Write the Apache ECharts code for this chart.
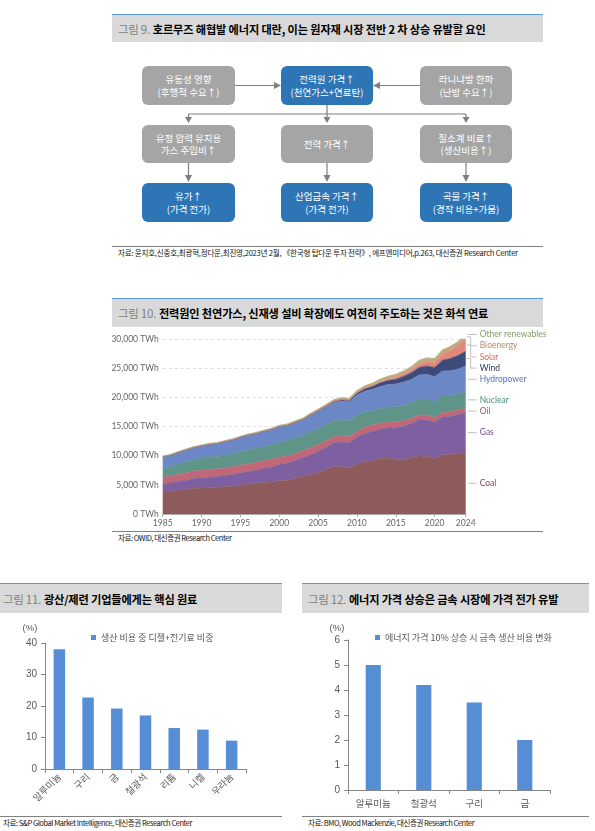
<!DOCTYPE html>
<html><head><meta charset="utf-8">
<script src="https://cdn.jsdelivr.net/npm/echarts@6/dist/echarts.min.js"></script>
<style>
body{margin:0;width:595px;height:831px;position:relative;background:#fff;font-family:"Noto Sans CJK KR",sans-serif;overflow:hidden}
.hd{position:absolute;background:#d9d9d9;border-top:1.5px solid #5b9bd5;box-sizing:border-box;display:flex;align-items:center;white-space:nowrap}
.hd .n{color:#7f7f7f;font-size:11.5px;margin-right:3px;letter-spacing:-0.3px}
.hd .t{color:#000;font-weight:700;font-size:11.2px;letter-spacing:-0.15px}
.box{position:absolute;display:flex;align-items:center;justify-content:center;text-align:center;color:#fff;font-size:9.5px;line-height:12.5px;border-radius:6px}
.g{background:#a5a5a5}.b{background:#2e75b6}
.src{position:absolute;font-size:7.5px;color:#111;white-space:nowrap;letter-spacing:-0.45px;line-height:9px}
.rule{position:absolute;height:0;border-top:1px solid #808080}
.ch{position:absolute}
</style></head>
<body>
<!-- Figure 9 -->
<div class="hd" style="left:112px;top:14px;width:431px;height:28px;padding-left:6px"><span class="n">그림 9.</span><span class="t">호르무즈 해협발 에너지 대란, 이는 원자재 시장 전반 2 차 상승 유발할 요인</span></div>
<svg style="position:absolute;left:0;top:0" width="595" height="260">
 <g stroke="#7f7f7f" stroke-width="1.2" fill="none">
  <line x1="235" y1="85.5" x2="275" y2="85.5"/>
  <line x1="420" y1="85.5" x2="379" y2="85.5"/>
  <line x1="327" y1="105" x2="327" y2="118"/>
  <line x1="188.5" y1="114" x2="466" y2="114"/>
  <line x1="188.5" y1="114" x2="188.5" y2="118"/>
  <line x1="466" y1="114" x2="466" y2="118"/>
  <line x1="188.5" y1="163" x2="188.5" y2="176"/>
  <line x1="327" y1="163" x2="327" y2="176"/>
  <line x1="466" y1="163" x2="466" y2="176"/>
 </g>
 <g fill="#7f7f7f">
  <polygon points="281,85.5 274,82 274,89"/>
  <polygon points="373,85.5 380,82 380,89"/>
  <polygon points="188.5,123 185,117 192,117"/>
  <polygon points="327,123 323.5,117 330.5,117"/>
  <polygon points="466,123 462.5,117 469.5,117"/>
  <polygon points="188.5,182 185,175 192,175"/>
  <polygon points="327,182 323.5,175 330.5,175"/>
  <polygon points="466,182 462.5,175 469.5,175"/>
 </g>
</svg>
<div class="box g" style="left:142px;top:66px;width:93px;height:39px">유동성 영향<br>(후행적 수요↑)</div>
<div class="box b" style="left:281px;top:66px;width:92px;height:39px">전력원 가격↑<br>(천연가스+연료탄)</div>
<div class="box g" style="left:420px;top:66px;width:92px;height:39px">라니냐발 한파<br>(난방 수요↑)</div>
<div class="box g" style="left:142px;top:125px;width:93px;height:38px">유정 압력 유지용<br>가스 주입비↑</div>
<div class="box g" style="left:281px;top:125px;width:92px;height:38px">전력 가격↑</div>
<div class="box g" style="left:420px;top:125px;width:92px;height:38px">질소계 비료↑<br>(생산비용↑)</div>
<div class="box b" style="left:142px;top:183px;width:93px;height:39px">유가↑<br>(가격 전가)</div>
<div class="box b" style="left:281px;top:183px;width:92px;height:39px">산업금속 가격↑<br>(가격 전가)</div>
<div class="box b" style="left:420px;top:183px;width:92px;height:39px">곡물 가격↑<br>(경작 비용+가뭄)</div>
<div class="rule" style="left:112px;top:246px;width:431px"></div>
<div class="src" style="left:118px;top:248px;letter-spacing:-0.2px">자료: 윤지호,신중호,최광혁,정다운,최진영,2023년 2월, 《한국형 탑다운 투자 전략》, 에프엔미디어,p.263, 대신증권 Research Center</div>

<!-- Figure 10 -->
<div class="hd" style="left:112px;top:298px;width:431px;height:29px;padding-left:6px"><span class="n">그림 10.</span><span class="t">전력원인 천연가스, 신재생 설비 확장에도 여전히 주도하는 것은 화석 연료</span></div>
<div class="ch" id="c10" style="left:100px;top:330px;width:460px;height:200px"></div>
<div class="rule" style="left:112px;top:531px;width:431px"></div>
<div class="src" style="left:118px;top:533px">자료: OWID, 대신증권 Research Center</div>

<!-- Figure 11 -->
<div class="hd" style="left:0px;top:583px;width:282px;height:30px;padding-left:3px"><span class="n">그림 11.</span><span class="t">광산/제련 기업들에게는 핵심 원료</span></div>
<div class="ch" id="c11" style="left:0px;top:615px;width:290px;height:200px"></div>
<div class="rule" style="left:0px;top:816px;width:282px"></div>
<div class="src" style="left:3px;top:818px">자료: S&amp;P Global Market Intelligence, 대신증권 Research Center</div>

<!-- Figure 12 -->
<div class="hd" style="left:302px;top:583px;width:287px;height:30px;padding-left:6px"><span class="n">그림 12.</span><span class="t">에너지 가격 상승은 금속 시장에 가격 전가 유발</span></div>
<div class="ch" id="c12" style="left:300px;top:615px;width:295px;height:200px"></div>
<div class="rule" style="left:302px;top:816px;width:287px"></div>
<div class="src" style="left:308px;top:818px">자료: BMO, Wood Mackenzie, 대신증권 Research Center</div>

<script>
// ---------- Figure 10 data (TWh) ----------
const years = [1985,1986,1987,1988,1989,1990,1991,1992,1993,1994,1995,1996,1997,1998,1999,2000,2001,2002,2003,2004,2005,2006,2007,2008,2009,2010,2011,2012,2013,2014,2015,2016,2017,2018,2019,2020,2021,2022,2023,2024];
const coal = [3750,3870,4060,4200,4400,4450,4520,4580,4680,4780,4950,5120,5260,5380,5480,5750,5800,6070,6480,6740,7150,7600,8100,8100,7900,8500,9000,9100,9500,9600,9400,9350,9650,10000,9850,9450,10150,10200,10400,10550];
const gas = [1430,1450,1550,1600,1700,1750,1800,1850,1900,2000,2100,2150,2250,2400,2550,2750,2900,3050,3150,3400,3600,3800,4100,4250,4300,4700,4800,5050,5050,5150,5450,5700,5850,6150,6300,6300,6500,6500,6650,6800];
const oil = [1150,1200,1200,1250,1300,1320,1310,1330,1300,1330,1300,1320,1330,1380,1330,1250,1250,1200,1200,1200,1150,1100,1100,1050,1030,1000,1080,1100,1030,1000,990,940,860,810,790,740,770,830,820,800];
const nuclear = [1500,1600,1740,1880,1920,2000,2100,2110,2180,2230,2320,2400,2390,2430,2530,2580,2650,2700,2640,2750,2770,2800,2720,2730,2700,2760,2650,2460,2480,2540,2570,2610,2640,2700,2790,2690,2800,2680,2740,2820];
const hydro = [1980,2000,2040,2100,2100,2160,2230,2220,2350,2370,2480,2520,2560,2570,2580,2640,2580,2630,2640,2810,2920,3030,3080,3240,3250,3430,3500,3660,3790,3890,3880,4030,4060,4180,4230,4350,4300,4340,4220,4420];
const wind = [0,0,0,0,1,4,4,5,6,7,8,9,12,16,21,31,38,52,63,85,104,133,170,221,277,346,437,524,636,712,831,960,1137,1270,1420,1590,1850,2100,2330,2500];
const solar = [0,0,0,0,0,0,0,0,0,0,0,0,0,0,1,1,2,2,3,3,4,6,8,12,20,32,63,99,137,191,256,329,445,575,700,840,1030,1290,1630,2130];
const bioenergy = [60,65,70,75,85,105,110,115,120,125,130,135,140,145,150,155,160,175,190,205,225,240,260,280,305,340,370,400,430,470,490,520,560,590,610,630,660,680,690,700];
const otherRenewables = [30,32,34,36,38,40,42,43,44,45,46,47,48,49,50,52,53,54,55,56,58,60,62,64,67,70,72,74,76,78,82,84,86,88,90,92,94,96,98,100];
const yTicks10 = [0,5000,10000,15000,20000,25000,30000];

// ---------- Figure 11 data ----------
const cats11 = ['알루미늄','구리','금','철광석','리튬','니켈','우라늄'];
const vals11 = [38,22.7,19.2,17,13,12.5,9];
const name11 = '생산 비용 중 디젤+전기료 비중';

// ---------- Figure 12 data ----------
const cats12 = ['알루미늄','철광석','구리','금'];
const vals12 = [5,4.2,3.5,2];
const name12 = '에너지 가격 10% 상승 시 금속 생산 비용 변화';

const KR = '"Noto Sans CJK KR", sans-serif';

// ---------- Chart 10 ----------
const layers = [
 {name:'Coal', data:coal, color:'#8e5b5c', lc:'#8a4646'},
 {name:'Gas', data:gas, color:'#7e60a0', lc:'#6b4f9c'},
 {name:'Oil', data:oil, color:'#c06878', lc:'#b84f62'},
 {name:'Nuclear', data:nuclear, color:'#5f9488', lc:'#4e8a80'},
 {name:'Hydropower', data:hydro, color:'#6c87c6', lc:'#5673bd'},
 {name:'Wind', data:wind, color:'#3e4a7a', lc:'#2b375f'},
 {name:'Solar', data:solar, color:'#e0887a', lc:'#d06b5c'},
 {name:'Bioenergy', data:bioenergy, color:'#c9a47e', lc:'#b58c6a'},
 {name:'Other renewables', data:otherRenewables, color:'#a2b47c', lc:'#879a6a'}
];
const showYear = (i, v) => { const y = +v; return (y - 1985) % 5 === 0 || y === 2024; };
const c10 = echarts.init(document.getElementById('c10'));
c10.setOption({
 animation:false,
 textStyle:{fontFamily:'Lato, sans-serif'},
 grid:{left:62.7,right:94.3,top:9,bottom:16},
 xAxis:{type:'category',data:years,boundaryGap:false,
   axisLine:{lineStyle:{color:'#aaa'}},
   axisTick:{show:true,length:3,interval:showYear,lineStyle:{color:'#aaa'}},
   axisLabel:{interval:showYear,color:'#666',fontSize:8.5,margin:5,fontFamily:'Lato'}},
 yAxis:{type:'value',min:yTicks10[0],max:yTicks10[yTicks10.length-1],interval:5000,
   axisLine:{show:false},axisTick:{show:false},
   axisLabel:{color:'#666',fontSize:8.5,margin:4,fontFamily:'Lato',formatter:v=>v.toLocaleString('en-US')+' TWh'},
   splitLine:{lineStyle:{type:[3,3],color:'#d4d4d4',width:0.8}}},
 series:layers.map(s=>({type:'line',name:s.name,stack:'total',data:s.data,symbol:'none',
   lineStyle:{width:0.6,color:s.color},itemStyle:{color:s.color},areaStyle:{color:s.color,opacity:1}}))
});
(function(){
 const last = years.length-1;
 const xEdge = c10.convertToPixel({xAxisIndex:0}, last);
 let cum = 0; const items = [];
 layers.forEach(s=>{ const v = s.data[last]; const mid = cum + v/2; cum += v;
   items.push({name:s.name, color:s.lc, y:c10.convertToPixel({yAxisIndex:0}, mid)}); });
 items.sort((a,b)=>a.y-b.y);
 let prev = -1e9; items.forEach(it=>{ it.ly = Math.max(it.y, prev+11.2); prev = it.ly; });
 const g = [];
 items.forEach(it=>{
   const pts = Math.abs(it.ly-it.y) < 0.8 ? [[xEdge+2,it.ly],[xEdge+11,it.ly]]
     : [[xEdge+1,it.y],[xEdge+5,it.y],[xEdge+5,it.ly],[xEdge+11,it.ly]];
   g.push({type:'polyline',shape:{points:pts},style:{stroke:'#b0b0b0',lineWidth:0.8,fill:null}});
   g.push({type:'text',x:xEdge+14,y:it.ly,style:{text:it.name,fill:it.color,font:'8.5px Lato',verticalAlign:'middle',align:'left'}});
 });
 c10.setOption({graphic:g});
})();

// ---------- Bar charts ----------
function barChart(id, cats, vals, name, o){
 const c = echarts.init(document.getElementById(id));
 c.setOption({
  animation:false,
  textStyle:{fontFamily:KR},
  grid:o.grid,
  legend:{data:[name],left:o.legLeft,top:o.legTop,icon:'rect',itemWidth:5,itemHeight:5,
    textStyle:{fontSize:9,color:'#595959',fontFamily:KR}},
  xAxis:{type:'category',data:cats,
    axisLine:{lineStyle:{color:'#868686'}},
    axisTick:{show:true,length:4,lineStyle:{color:'#868686'}},
    axisLabel:{rotate:o.rotate,color:'#595959',fontSize:9.5,margin:o.xMargin,fontFamily:KR}},
  yAxis:{type:'value',min:0,max:o.max,interval:o.interval,
    axisLine:{show:true,lineStyle:{color:'#868686'}},
    axisTick:{show:true,length:4,lineStyle:{color:'#868686'}},
    splitLine:{show:false},
    axisLabel:{color:'#595959',fontSize:10,margin:8,fontFamily:'Arial'}},
  series:[{type:'bar',name:name,data:vals,barWidth:o.barWidth,itemStyle:{color:'#558ed5'}}],
  graphic:[{type:'text',x:o.pctX,y:13,style:{text:'(%)',fill:'#595959',font:'9.5px Arial',align:'center',verticalAlign:'middle'}}]
 });
 return c;
}
barChart('c11', cats11, vals11, name11, {grid:{left:45,right:44,top:28,bottom:46}, legLeft:86, legTop:13, rotate:45, xMargin:6, max:40, interval:10, barWidth:'40%', pctX:30});
barChart('c12', cats12, vals12, name12, {grid:{left:48,right:45,top:25,bottom:25}, legLeft:70, legTop:13, rotate:0, xMargin:9, max:6, interval:1, barWidth:'30%', pctX:37});
</script>
</body></html>
